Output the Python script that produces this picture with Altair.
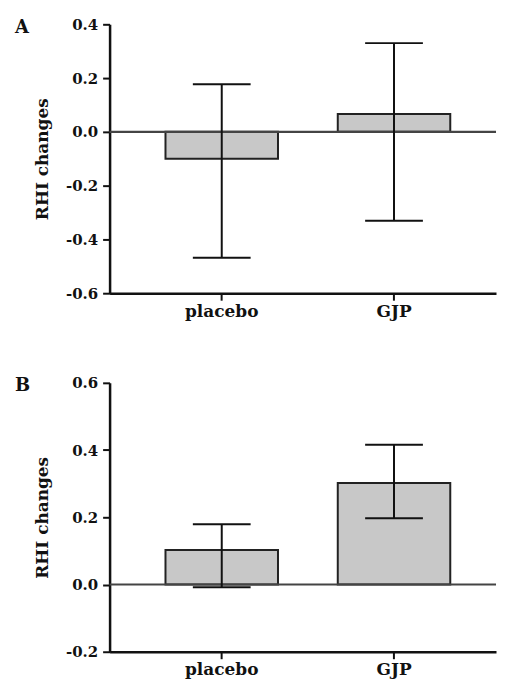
import altair as alt
import pandas as pd

groups = ["placebo", "GJP"]

a_mean = [-0.100, 0.066]
a_upper = [0.177, 0.330]
a_lower = [-0.468, -0.331]

b_mean = [0.103, 0.302]
b_upper = [0.179, 0.416]
b_lower = [-0.008, 0.197]

a_ticks = [-0.6, -0.4, -0.2, 0.0, 0.2, 0.4]
b_ticks = [-0.2, 0.0, 0.2, 0.4, 0.6]

panel_letters = ["A", "B"]
y_title = "RHI changes"

FONT = "DejaVu Serif"
MINUS = "\u2212"
label_expr = f"replace(format(datum.value, '.1f'), '{MINUS}', '-')"

AX = dict(labelFont=FONT, titleFont=FONT, labelFontWeight="bold", titleFontWeight="bold",
          labelColor="#111111", titleColor="#111111",
          domainColor="#111111", domainWidth=2.5, tickColor="#111111", tickWidth=2)


def panel(means, uppers, lowers, ticks, letter):
    df = pd.DataFrame({"group": groups, "mean": means, "upper": uppers, "lower": lowers})
    xs = alt.Scale(domain=groups, paddingInner=0.347, paddingOuter=0.295, align=0.55)
    ys = alt.Scale(domain=[ticks[0], ticks[-1]], nice=False, zero=False)
    xenc = alt.X("group:N", scale=xs, sort=groups,
                 axis=alt.Axis(title=None, labelAngle=0, labelFontSize=17,
                               labelPadding=3, tickSize=7, **AX))
    yaxis = alt.Axis(title=y_title, values=ticks, labelExpr=label_expr,
                     labelFontSize=15, tickSize=7, labelPadding=5,
                     titleFontSize=17, titlePadding=14, grid=False, **AX)

    bars = alt.Chart(df).mark_bar(fill="#c8c8c8", stroke="#222222", strokeWidth=2).encode(
        x=xenc,
        y=alt.Y("mean:Q", scale=ys, axis=yaxis),
        y2=alt.datum(0),
    )
    zero = alt.Chart(pd.DataFrame({"z": [0.0]})).mark_rule(color="#444444", strokeWidth=2.2).encode(
        y=alt.Y("z:Q", scale=ys)
    )
    err = alt.Chart(df).mark_rule(color="#111111", strokeWidth=2).encode(
        x=xenc,
        y=alt.Y("lower:Q", scale=ys),
        y2="upper:Q",
    )
    cap_hi = alt.Chart(df).mark_tick(color="#111111", size=58, thickness=2, opacity=1).encode(
        x=xenc, y=alt.Y("upper:Q", scale=ys)
    )
    cap_lo = alt.Chart(df).mark_tick(color="#111111", size=58, thickness=2, opacity=1).encode(
        x=xenc, y=alt.Y("lower:Q", scale=ys)
    )
    letter_txt = alt.Chart(pd.DataFrame({"t": [letter]})).mark_text(
        font=FONT, fontWeight="bold", fontSize=18, align="left", baseline="middle", color="#111111"
    ).encode(x=alt.value(-95), y=alt.value(3.5), text="t:N")

    return alt.layer(bars, zero, err, cap_hi, cap_lo, letter_txt).properties(width=388, height=270)


chart = alt.vconcat(
    panel(a_mean, a_upper, a_lower, a_ticks, panel_letters[0]),
    panel(b_mean, b_upper, b_lower, b_ticks, panel_letters[1]),
    spacing=57,
).properties(
    padding={"left": 7, "top": 8, "right": 0, "bottom": 0},
    background="white",
).configure_view(stroke=None)

chart.save("out.html", embed_options={"renderer": "svg", "actions": False})
